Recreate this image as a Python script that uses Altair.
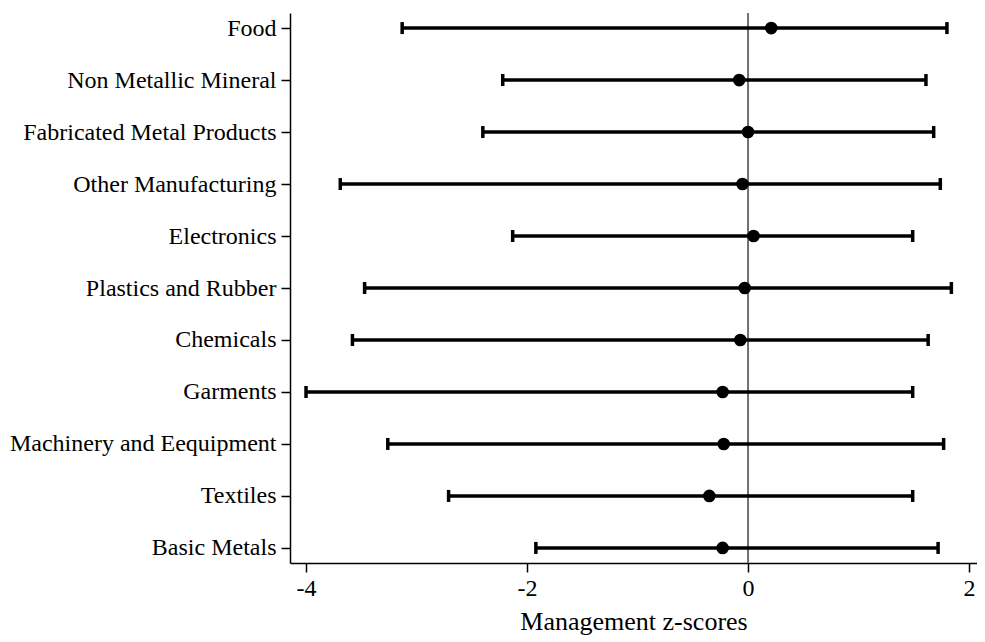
import altair as alt
import pandas as pd

sectors = ["Food", "Non Metallic Mineral", "Fabricated Metal Products", "Other Manufacturing",
           "Electronics", "Plastics and Rubber", "Chemicals", "Garments",
           "Machinery and Eequipment", "Textiles", "Basic Metals"]
means = [0.21, -0.08, 0.00, -0.05, 0.05, -0.03, -0.07, -0.23, -0.22, -0.35, -0.23]
lows = [-3.13, -2.22, -2.40, -3.69, -2.13, -3.47, -3.58, -4.00, -3.26, -2.71, -1.92]
highs = [1.80, 1.61, 1.68, 1.74, 1.49, 1.84, 1.63, 1.49, 1.77, 1.49, 1.72]
x_ticks = [-4, -2, 0, 2]

df = pd.DataFrame({"sector": sectors, "mean": means, "low": lows, "high": highs})
zero = pd.DataFrame({"z": [0]})

FONT = "Liberation Serif"
xscale = alt.Scale(domain=[-4.145, 2.072], nice=False, zero=False)
yscale = alt.Scale(type="point", padding=0.29, domain=sectors)

xaxis = alt.Axis(values=x_ticks, title="Management z-scores", grid=False,
                 labelExpr="'' + datum.value",
                 labelFont=FONT, labelFontSize=24, labelColor="black",
                 titleFont=FONT, titleFontSize=26, titleFontWeight="normal", titleColor="black",
                 domainColor="black", domainWidth=1.5, tickColor="black", tickWidth=1.5,
                 tickSize=9, labelPadding=4, titlePadding=8)
yaxis = alt.Axis(title=None, grid=False, labelFont=FONT, labelFontSize=24, labelColor="black",
                 domainColor="black", domainWidth=1.5, tickColor="black", tickWidth=1.5,
                 tickSize=9, labelPadding=5, labelLimit=400)

base = alt.Chart(df)

zline = alt.Chart(zero).mark_rule(color="#707070", strokeWidth=2).encode(
    x=alt.X("z:Q", scale=xscale, axis=xaxis))

bars = base.mark_rule(color="black", strokeWidth=3.5).encode(
    x=alt.X("low:Q", scale=xscale, axis=xaxis),
    x2="high:Q",
    y=alt.Y("sector:N", scale=yscale, axis=yaxis, sort=sectors))

cap_lo = base.mark_tick(color="black", thickness=3.5, size=12, orient="vertical", opacity=1).encode(
    x=alt.X("low:Q", scale=xscale),
    y=alt.Y("sector:N", scale=yscale, sort=sectors))
cap_hi = base.mark_tick(color="black", thickness=3.5, size=12, orient="vertical", opacity=1).encode(
    x=alt.X("high:Q", scale=xscale),
    y=alt.Y("sector:N", scale=yscale, sort=sectors))

dots = base.mark_point(filled=True, shape="circle", color="black", size=160, opacity=1).encode(
    x=alt.X("mean:Q", scale=xscale),
    y=alt.Y("sector:N", scale=yscale, sort=sectors))

chart = alt.layer(zline, bars, cap_lo, cap_hi, dots).properties(
    width=687, height=550,
    autosize=alt.AutoSizeParams(type="none"),
    padding={"left": 282, "top": 5, "right": 0, "bottom": 75},
    background="white",
).configure_view(stroke=None)

chart.save("out.html", embed_options={"renderer": "svg", "actions": False})
